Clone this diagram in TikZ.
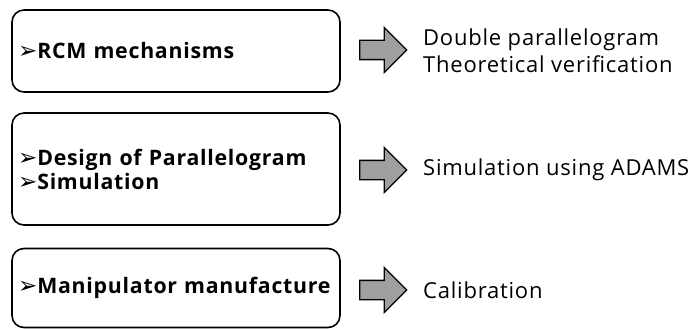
\documentclass[tikz,border=0pt]{standalone}
\usepackage{fontspec}
\setmainfont{Open Sans}[LetterSpace=3.5]
\newfontfamily\dingfont{DejaVu Sans}
\usepackage{tikz}
\usetikzlibrary{shapes.arrows,positioning}

\newcommand{\bul}{{\dingfont\fontsize{23}{24}\selectfont\char"27A2}}

\begin{document}
\begin{tikzpicture}
[x=1pt,y=-1pt,font=\fontsize{22}{27}\selectfont,
 stage/.style={draw=black,line width=1.6pt,rounded corners=12pt,minimum width=328pt,
   text width=316pt,align=left,inner sep=0pt,font=\fontsize{21.3}{24}\selectfont\bfseries},
 blockarrow/.style={single arrow,draw=black,line width=1.3pt,fill=gray!75,
   minimum height=47pt,inner xsep=0pt,inner ysep=9pt,single arrow head extend=13pt},
 result/.style={anchor=west,align=left,inner sep=0pt}]
\useasboundingbox (0,0) rectangle (697,329);

\node[stage,minimum height=82pt] (rcm) at (176,51) {\bul RCM mechanisms};
\node[stage,minimum height=112pt] (design) at (176,169) {\bul Design of Parallelogram\\\bul Simulation};
\node[stage,minimum height=79pt] (manu) at (176,288) {\bul Manipulator manufacture};

\node[blockarrow] (a1) at (378.5,50) {};
\node[blockarrow] (a2) at (378.5,170) {};
\node[blockarrow] (a3) at (378.5,290) {};

\node[result] (r1) at (423,51) {Double parallelogram\\Theoretical verification};
\node[result] (r2) at (423,170) {Simulation using ADAMS};
\node[result] (r3) at (423,290) {Calibration};
\end{tikzpicture}
\end{document}
